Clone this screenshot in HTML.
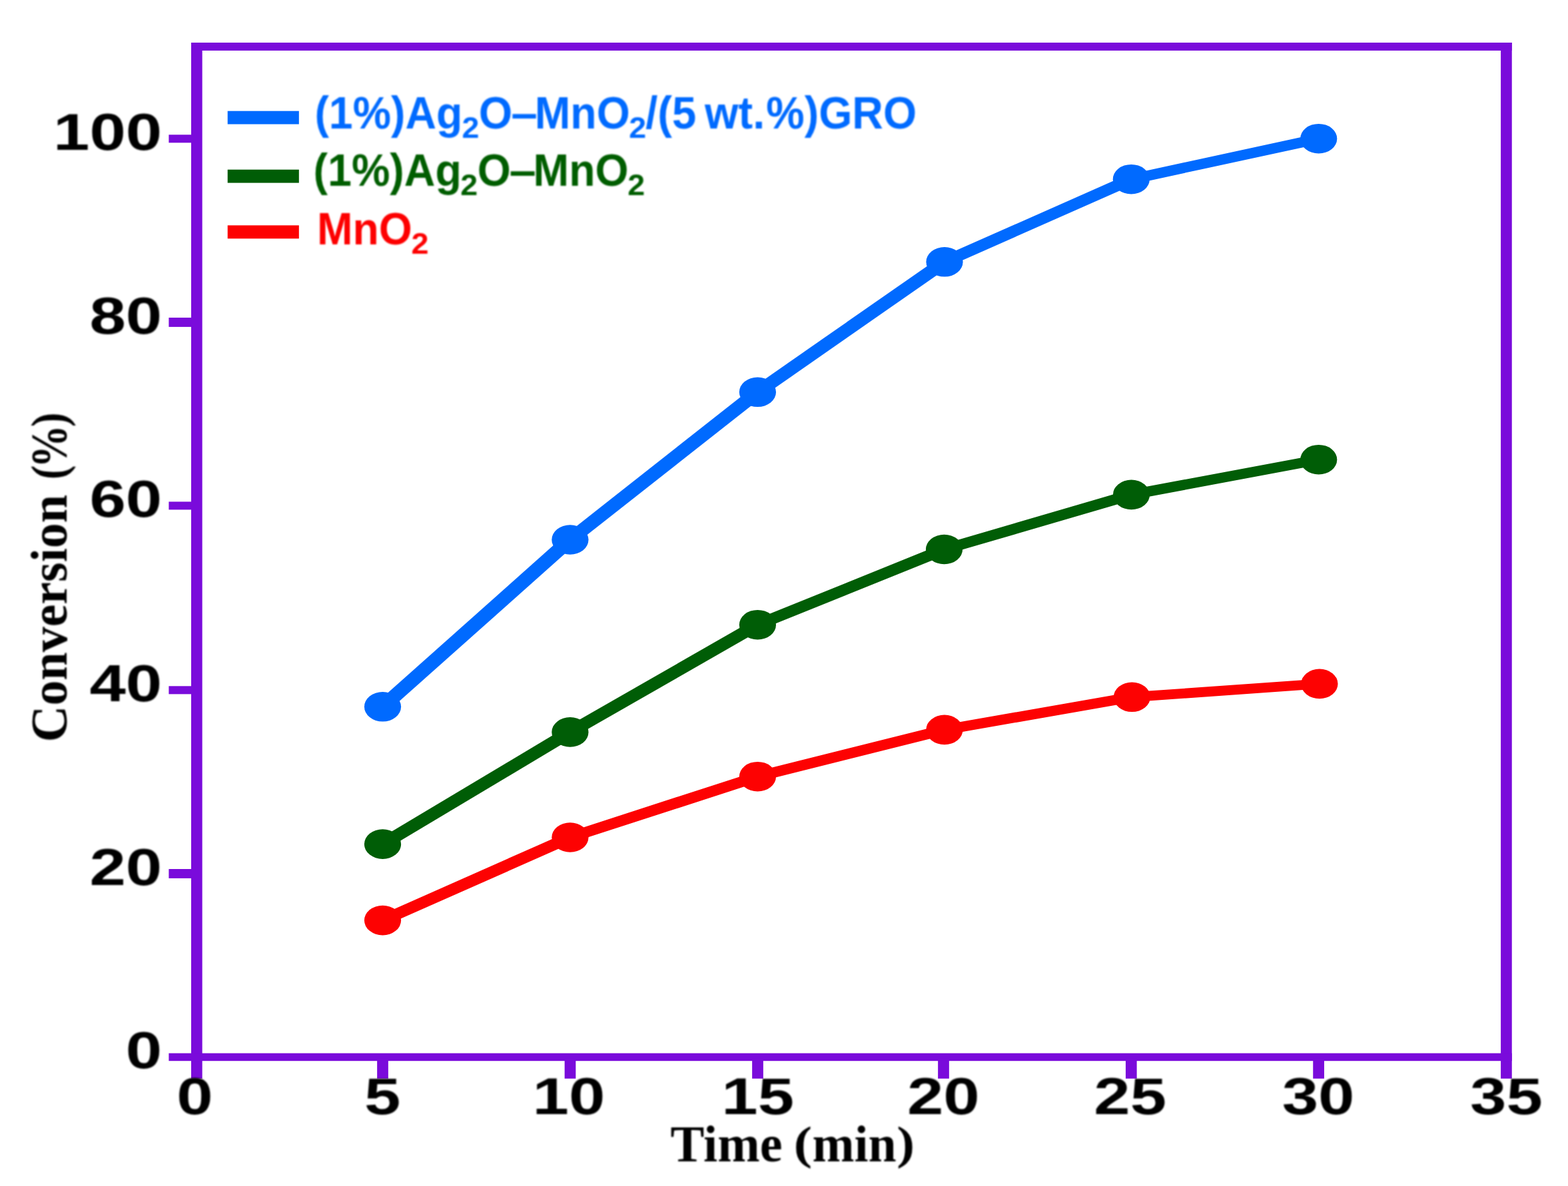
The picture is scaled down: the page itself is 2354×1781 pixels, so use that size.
<!DOCTYPE html>
<html lang="en"><head><meta charset="utf-8"><title>Conversion (%) vs Time (min)</title>
<style>
html,body{margin:0;padding:0;background:#fff;}
body{width:2354px;height:1781px;}
svg{display:block;}
text{white-space:pre;}
.tl{font-family:"Liberation Sans",Arial,Helvetica,sans-serif;font-weight:700;font-size:77px;fill:#000;}
.ax{font-family:"Liberation Serif","Times New Roman",Times,serif;font-weight:700;fill:#000;}
.lg{font-family:"Liberation Sans",Arial,Helvetica,sans-serif;font-weight:700;}
</style></head><body>
<svg width="2354" height="1781" viewBox="0 0 2354 1781">
<defs><filter id="soft" x="-5%" y="-20%" width="110%" height="140%"><feGaussianBlur stdDeviation="0.8"/></filter></defs>
<rect x="0" y="0" width="2354" height="1781" fill="#ffffff"/>
<g id="frame" fill="#7a0bdb">
<rect x="287" y="64" width="16.65" height="1555.7"/>
<rect x="2253.1" y="64" width="16.65" height="1555.7"/>
<rect x="287" y="64" width="1982.75" height="12"/>
<rect x="253.4" y="1581.6" width="2016.35" height="11.6"/>
<rect x="566.15" y="1592.2" width="16.7" height="27.5"/>
<rect x="847.65" y="1592.2" width="16.7" height="27.5"/>
<rect x="1129.15" y="1592.2" width="16.7" height="27.5"/>
<rect x="1408.15" y="1592.2" width="16.7" height="27.5"/>
<rect x="1689.95" y="1592.2" width="16.7" height="27.5"/>
<rect x="1971.25" y="1592.2" width="16.7" height="27.5"/>
<rect x="253.4" y="1305" width="34.6" height="13.9"/>
<rect x="253.4" y="1030.3" width="34.6" height="12.05"/>
<rect x="253.4" y="753.4" width="34.6" height="12"/>
<rect x="253.4" y="477" width="34.6" height="13.9"/>
<rect x="253.4" y="202.3" width="34.6" height="12.05"/>
</g>
<g id="series-red" fill="#fd0202">
<polygon points="574.5,1372.64 855.9,1248.04 855.9,1266.96 574.5,1391.56"/>
<polygon points="855.9,1248.93 1137.4,1157.63 1137.4,1174.77 855.9,1266.07"/>
<polygon points="1137.4,1158.08 1417.9,1087.78 1417.9,1104.02 1137.4,1174.32"/>
<polygon points="1417.9,1088.14 1699.4,1039.04 1699.4,1054.56 1417.9,1103.66"/>
<polygon points="1699.4,1039.34 1980.9,1019.44 1980.9,1034.36 1699.4,1054.26"/>
<ellipse cx="574.5" cy="1382.1" rx="27.6" ry="22.3"/>
<ellipse cx="855.9" cy="1257.5" rx="27.6" ry="22.3"/>
<ellipse cx="1137.4" cy="1166.2" rx="27.6" ry="22.3"/>
<ellipse cx="1417.9" cy="1095.9" rx="27.6" ry="22.3"/>
<ellipse cx="1699.4" cy="1046.8" rx="27.6" ry="22.3"/>
<ellipse cx="1980.9" cy="1026.9" rx="27.6" ry="22.3"/>
</g>
<g id="series-green" fill="#005d06">
<polygon points="574.5,1256.73 855.9,1088.53 855.9,1110.27 574.5,1278.47"/>
<polygon points="855.9,1088.77 1137.4,927.57 1137.4,948.83 855.9,1110.03"/>
<polygon points="1137.4,929.05 1417.5,815.85 1417.5,834.15 1137.4,947.35"/>
<polygon points="1417.5,816.64 1698.5,734.54 1698.5,751.26 1417.5,833.36"/>
<polygon points="1698.5,735.09 1979.7,682.39 1979.7,698.01 1698.5,750.71"/>
<ellipse cx="574.5" cy="1267.6" rx="27.6" ry="22.3"/>
<ellipse cx="855.9" cy="1099.4" rx="27.6" ry="22.3"/>
<ellipse cx="1137.4" cy="938.2" rx="27.6" ry="22.3"/>
<ellipse cx="1417.5" cy="825" rx="27.6" ry="22.3"/>
<ellipse cx="1698.5" cy="742.9" rx="27.6" ry="22.3"/>
<ellipse cx="1979.7" cy="690.2" rx="27.6" ry="22.3"/>
</g>
<g id="series-blue" fill="#006aff">
<polygon points="574.5,1047.31 855.9,796.51 855.9,824.49 574.5,1075.29"/>
<polygon points="855.9,797.66 1137.4,575.96 1137.4,601.64 855.9,823.34"/>
<polygon points="1137.4,576.93 1418,381.43 1418,405.17 1137.4,600.67"/>
<polygon points="1418,383.84 1698.3,259.74 1698.3,278.66 1418,402.76"/>
<polygon points="1698.3,261.26 1979.7,200.26 1979.7,216.14 1698.3,277.14"/>
<ellipse cx="574.5" cy="1061.3" rx="27.6" ry="22.3"/>
<ellipse cx="855.9" cy="810.5" rx="27.6" ry="22.3"/>
<ellipse cx="1137.4" cy="588.8" rx="27.6" ry="22.3"/>
<ellipse cx="1418" cy="393.3" rx="27.6" ry="22.3"/>
<ellipse cx="1698.3" cy="269.2" rx="27.6" ry="22.3"/>
<ellipse cx="1979.7" cy="208.2" rx="27.6" ry="22.3"/>
</g>
<g id="xticklabels" class="tl" text-anchor="middle" filter="url(#soft)">
<text transform="translate(292.4,1673) scale(1.27,1)">0</text>
<text transform="translate(574.25,1673) scale(1.27,1)">5</text>
<text transform="translate(853.9,1673) scale(1.27,1)">10</text>
<text transform="translate(1137.7,1673) scale(1.27,1)">15</text>
<text transform="translate(1416.25,1673) scale(1.27,1)">20</text>
<text transform="translate(1696.65,1673) scale(1.27,1)">25</text>
<text transform="translate(1979.1,1673) scale(1.27,1)">30</text>
<text transform="translate(2261.4,1673) scale(1.27,1)">35</text>
</g>
<g id="yticklabels" class="tl" text-anchor="end" filter="url(#soft)">
<text transform="translate(243.2,1604) scale(1.27,1)">0</text>
<text transform="translate(243.2,1328.5) scale(1.27,1)">20</text>
<text transform="translate(243.2,1052.9) scale(1.27,1)">40</text>
<text transform="translate(243.2,776) scale(1.27,1)">60</text>
<text transform="translate(243.2,500.55) scale(1.27,1)">80</text>
<text transform="translate(243.2,224.93) scale(1.27,1)">100</text>
</g>
<g id="axis-titles" filter="url(#soft)">
<g id="xlabel"><text class="ax" font-size="78.5" transform="translate(1006.56,1743.8) scale(0.9714,1)">Time </text><text class="ax" font-size="70.5" transform="translate(1191.46,1739.6) scale(1.1793,1)">(</text><text class="ax" font-size="78.5" transform="translate(1219.42,1743.8) scale(0.9649,1)">min</text><text class="ax" font-size="70.5" transform="translate(1346.27,1739.6) scale(1.1458,1)">)</text></g>
<g id="ylabel"><text class="ax" font-size="78" transform="translate(100.2,1114.5) rotate(-90) scale(0.9743,1)">Conversion </text><text class="ax" font-size="74.2" transform="translate(97.6,719.98) rotate(-90) scale(0.8615,1)">(</text><text class="ax" font-size="78" transform="translate(100,702.38) rotate(-90) scale(0.8227,1)">%</text><text class="ax" font-size="74.2" transform="translate(97.6,641.01) rotate(-90) scale(0.874,1)">)</text></g>
</g>
<g id="legend">
<g fill="#006aff"><rect x="341.7" y="166.7" width="107.1" height="19.8"/></g>
<g fill="#005d06"><rect x="341.7" y="254.7" width="107.1" height="19.9"/></g>
<g fill="#fd0202"><rect x="341.7" y="338.4" width="107.1" height="19.9"/></g>
<g id="legend-text" filter="url(#soft)">
<g id="legend-row-1" fill="#006aff"><text class="lg" font-size="69.3" transform="translate(472.38,192.9) scale(0.9298,1)">(1%)Ag</text><text class="lg" font-size="43.5" transform="translate(693.47,206.7) scale(1.0728,1)">2</text><text class="lg" font-size="69.3" transform="translate(718.8,192.9) scale(0.9385,1)">O</text><text class="lg" font-size="69.3" transform="translate(767.26,192.9) scale(1.029,1)">–</text><text class="lg" font-size="69.3" transform="translate(802.75,192.9) scale(0.929,1)">MnO</text><text class="lg" font-size="43.5" transform="translate(944.37,206.7) scale(1.0728,1)">2</text><text class="lg" font-size="69.3" transform="translate(969.25,192.9) scale(0.9407,1)">/(5 </text><text class="lg" font-size="69.3" transform="translate(1058.06,192.9) scale(0.9373,1)">wt.</text><text class="lg" font-size="69.3" transform="translate(1150.29,192.9) scale(0.9312,1)">%)GRO</text></g>
<g id="legend-row-2" fill="#005d06"><text class="lg" font-size="69.3" transform="translate(470.47,278.7) scale(0.9319,1)">(1%)Ag</text><text class="lg" font-size="43.5" transform="translate(691.27,293.1) scale(1.0728,1)">2</text><text class="lg" font-size="69.3" transform="translate(716.72,278.7) scale(0.9302,1)">O</text><text class="lg" font-size="69.3" transform="translate(764.42,278.7) scale(1.0465,1)">–</text><text class="lg" font-size="69.3" transform="translate(800.55,278.7) scale(0.929,1)">MnO</text><text class="lg" font-size="43.5" transform="translate(942.17,293.1) scale(1.0728,1)">2</text></g>
<g id="legend-row-3" fill="#fd0202"><text class="lg" font-size="69.3" transform="translate(475.96,367.3) scale(0.9283,1)">MnO</text><text class="lg" font-size="43.5" transform="translate(617.46,381.3) scale(1.0776,1)">2</text></g>
</g>
</g>
</svg>
</body></html>
